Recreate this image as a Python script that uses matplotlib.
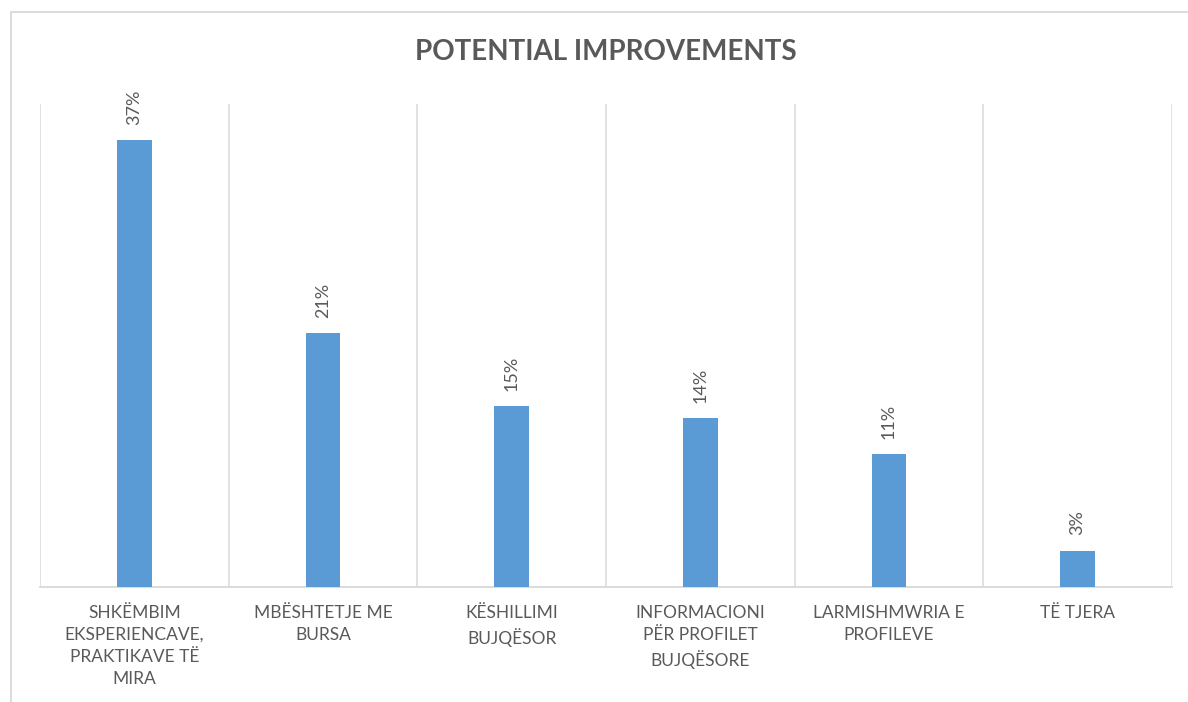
import matplotlib
matplotlib.use("Agg")
import matplotlib.pyplot as plt
from matplotlib.patches import Rectangle

plt.rcParams['font.family'] = ['Lato', 'DejaVu Sans']

# te dhenat
categories = [
    "SHKËMBIM\nEKSPERIENCAVE,\nPRAKTIKAVE TË\nMIRA",
    "MBËSHTETJE ME\nBURSA",
    "KËSHILLIMI\nBUJQËSOR",
    "INFORMACIONI\nPËR PROFILET\nBUJQËSORE",
    "LARMISHMWRIA E\nPROFILEVE",
    "TË TJERA",
]
values = [37, 21, 15, 14, 11, 3]
labels = ["37%", "21%", "15%", "14%", "11%", "3%"]

grey = "#595959"
line_grey = "#D9D9D9"
blue = "#5B9BD5"

fig = plt.figure(figsize=(11.88, 7.02), dpi=100)

# korniza e grafikut
fig.patches.append(Rectangle((11 / 1188, -0.05), 1.2, 1 - 12 / 702 + 0.05,
                             transform=fig.transFigure, fill=False,
                             edgecolor=line_grey, linewidth=1.3))

ax = fig.add_axes([40 / 1188, 1 - 587 / 702, 1132 / 1188, 483 / 702])
x = list(range(len(values)))
ax.bar(x, values, width=0.185, color=blue, zorder=3)

for xi, v, lab in zip(x, values, labels):
    ax.annotate(lab, (xi, v), xytext=(0, 11), textcoords="offset points",
                rotation=90, ha="center", va="bottom", color=grey, fontsize=13)

ax.set_xlim(-0.5, len(values) - 0.5)
ax.set_ylim(0, 40)

# vijat ndarese midis kategorive
for b in range(len(values) + 1):
    ax.axvline(b - 0.5, color=line_grey, linewidth=1.1, zorder=1)

for s in ["top", "left", "right"]:
    ax.spines[s].set_visible(False)
ax.spines["bottom"].set_color(line_grey)
ax.spines["bottom"].set_linewidth(1.3)

ax.set_yticks([])
ax.set_xticks(x)
ax.set_xticklabels(categories, color=grey, fontsize=12.5, linespacing=1.45)
ax.tick_params(axis="x", length=0, pad=13)

fig.text(605.5 / 1188, 1 - 52 / 702, "POTENTIAL IMPROVEMENTS", ha="center",
         va="center", fontsize=20, fontweight="bold", color=grey)

fig.savefig("out.png", dpi=100)
